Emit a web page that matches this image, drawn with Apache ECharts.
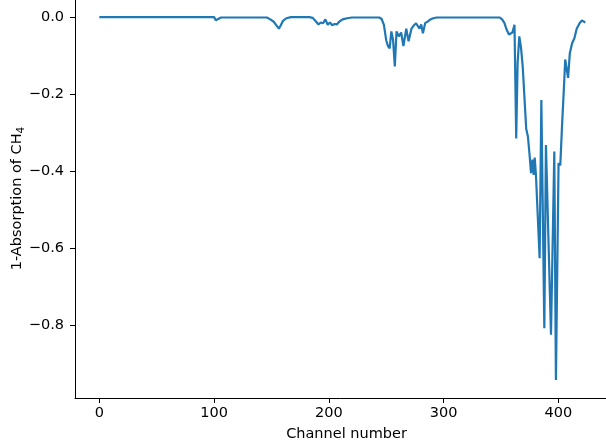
<!DOCTYPE html>
<html>
<head>
<meta charset="utf-8">
<script src="https://cdn.jsdelivr.net/npm/echarts@6/dist/echarts.min.js"></script>
<style>
  body { margin: 0; background: #fff; }
  #chart { width: 606px; height: 446px; }
</style>
</head>
<body>
<div id="chart"></div>
<script>
// channel numbers and 1-absorption values
const channels = [
  0, 100, 101.5, 103, 106, 122, 123.5, 125, 126, 127, 146, 149, 152, 154, 156.5, 158, 160, 163, 167,
  183, 186, 189, 191, 193, 195, 197, 199, 201, 203, 205, 207, 209, 212, 216, 220,
  244, 246, 248, 250, 251.5, 253, 254.5, 256, 257.5, 259, 261, 263, 265, 267.5, 269.5, 272, 274, 276,
  277.5, 279, 280.5, 282, 284, 286, 288, 291, 294,
  349, 351, 353, 355, 357, 358.5, 360, 361.8, 363.3, 364.5, 366, 367.5, 369, 370.5, 372, 373.5, 375,
  376.2, 377.5, 378.5, 379.4, 380.5, 383.7, 385.2, 387.8, 389.2, 393.6, 396.5, 397.9, 400.2, 401.7,
  403.2, 405.2, 406, 407, 408.5, 410, 412, 414, 416, 418.5, 420.5, 423.5
]
const absorption = [
  0, 0, -0.008, -0.003, -0.001, -0.001, -0.004, -0.001, -0.004, -0.001, -0.001, -0.006, -0.012, -0.02, -0.03, -0.022, -0.01, -0.003, 0,
  0, -0.002, -0.012, -0.019, -0.014, -0.016, -0.006, -0.02, -0.014, -0.021, -0.018, -0.019, -0.012, -0.006, -0.003, -0.001,
  -0.001, -0.005, -0.02, -0.06, -0.075, -0.081, -0.037, -0.06, -0.128, -0.037, -0.05, -0.04, -0.075, -0.03, -0.063, -0.03, -0.022, -0.016,
  -0.018, -0.03, -0.019, -0.042, -0.015, -0.012, -0.007, -0.003, -0.001,
  -0.001, -0.006, -0.015, -0.033, -0.045, -0.047, -0.04, -0.02, -0.315, -0.12, -0.05, -0.08, -0.13, -0.21, -0.29, -0.31, -0.36,
  -0.405, -0.37, -0.41, -0.365, -0.41, -0.626, -0.215, -0.808, -0.332, -0.825, -0.349, -0.942, -0.379, -0.385,
  -0.284, -0.163, -0.11, -0.107, -0.158, -0.094, -0.068, -0.055, -0.03, -0.016, -0.009, -0.014
]
const xTicks = [0, 100, 200, 300, 400]
const yTicks = [0, -0.2, -0.4, -0.6, -0.8]

const chart = echarts.init(document.getElementById('chart'))
chart.setOption({
  animation: false,
  backgroundColor: '#fff',
  textStyle: { fontFamily: 'DejaVu Sans' },
  grid: { left: 75, top: -1, width: 543, height: 399, outerBoundsMode: 'none', containLabel: false },
  xAxis: {
    type: 'value',
    min: -21.2,
    max: 452,
    name: 'Channel number',
    nameLocation: 'middle',
    nameGap: 29,
    nameMoveOverlap: false,
    nameTextStyle: { fontSize: 14.5, color: '#000' },
    axisLine: { onZero: false, lineStyle: { color: '#000', width: 1 } },
    axisTick: { customValues: xTicks, length: 5, lineStyle: { color: '#000', width: 1 } },
    axisLabel: { customValues: xTicks, fontSize: 14.5, color: '#000', margin: 8 },
    splitLine: { show: false }
  },
  yAxis: {
    type: 'value',
    min: -0.989,
    max: 0.047,
    name: '{a|1-Absorption of CH}{b|4}',
    nameLocation: 'middle',
    nameGap: 48,
    nameRotate: 90,
    nameMoveOverlap: false,
    nameTextStyle: {
      color: '#000',
      rich: {
        a: { fontSize: 14.5, lineHeight: 20, color: '#000' },
        b: { fontSize: 10.5, lineHeight: 10, verticalAlign: 'bottom', color: '#000' }
      }
    },
    axisLine: { show: true, onZero: false, lineStyle: { color: '#000', width: 1 } },
    axisTick: { show: true, customValues: yTicks, length: 5, lineStyle: { color: '#000', width: 1 } },
    axisLabel: {
      customValues: yTicks,
      fontSize: 14.5,
      color: '#000',
      margin: 11,
      formatter: function (v) {
        return v === 0 ? '0.0' : '\u2212' + Math.abs(v).toFixed(1)
      }
    },
    splitLine: { show: false }
  },
  series: [{
    type: 'line',
    data: channels.map((c, i) => [c, absorption[i]]),
    showSymbol: false,
    clip: true,
    lineStyle: { color: '#1f77b4', width: 2.2 }
  }]
})
</script>
</body>
</html>
